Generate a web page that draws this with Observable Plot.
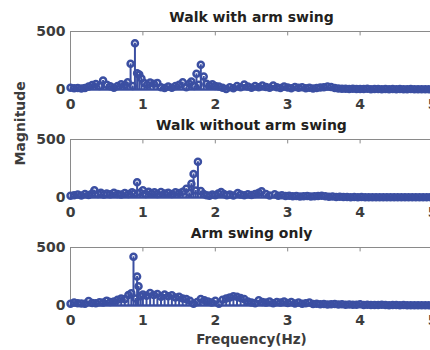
<!DOCTYPE html>
<html>
<head>
<meta charset="utf-8">
<script src="https://cdn.jsdelivr.net/npm/d3@7"></script>
<script src="https://cdn.jsdelivr.net/npm/@observablehq/plot@0.6"></script>
<style>
  html, body { margin: 0; padding: 0; background: #fff; }
  #chart { width: 430px; height: 350px; overflow: hidden; position: relative; }
  #chart svg { display: block; max-width: none !important; height: auto; }
</style>
</head>
<body>
<div id="chart"></div>
<script>
const titles = ["Walk with arm swing", "Walk without arm swing", "Arm swing only"];
const xTicks = [0, 1, 2, 3, 4, 5];
const yTicks = [0, 500];
const xLabel = "Frequency(Hz)";
const yLabel = "Magnitude";

const freq1 = [0,0.05,0.1,0.15,0.2,0.25,0.3,0.35,0.4,0.45,0.5,0.55,0.6,0.65,0.7,0.75,0.79,0.83,0.86,0.89,0.92,0.95,0.98,1.02,1.06,1.1,1.15,1.2,1.25,1.3,1.35,1.4,1.45,1.5,1.55,1.6,1.64,1.67,1.71,1.74,1.77,1.8,1.84,1.88,1.92,1.96,2.0,2.05,2.1,2.15,2.2,2.25,2.3,2.35,2.4,2.45,2.5,2.55,2.6,2.65,2.7,2.75,2.8,2.85,2.9,2.95,3.0,3.05,3.1,3.15,3.2,3.25,3.3,3.35,3.4,3.45,3.5,3.55,3.6,3.65,3.7,3.75,3.8,3.85,3.9,3.95,4.0,4.05,4.1,4.15,4.2,4.25,4.3,4.35,4.4,4.45,4.5,4.55,4.6,4.65,4.7,4.75,4.8,4.85,4.9,4.95,5.0];
const mag1 = [15,10,12,8,14,25,38,48,30,78,42,28,15,30,45,38,63,221,30,399,140,130,95,55,40,60,50,55,20,12,25,15,30,40,63,20,50,69,30,135,40,213,112,50,35,45,30,25,15,5,20,10,30,20,43,25,15,30,20,35,22,15,34,20,12,25,18,10,22,15,20,10,15,8,12,18,20,26,22,12,8,6,7,5,6,4,5,4,6,3,5,4,3,5,3,4,3,4,2,3,4,2,3,2,3,2,2];

const freq2 = [0,0.05,0.1,0.15,0.2,0.25,0.3,0.33,0.38,0.42,0.46,0.5,0.55,0.6,0.65,0.7,0.75,0.8,0.85,0.88,0.92,0.96,1.0,1.04,1.08,1.12,1.16,1.2,1.25,1.3,1.35,1.4,1.45,1.5,1.55,1.6,1.64,1.67,1.7,1.73,1.76,1.8,1.84,1.88,1.92,1.96,2.0,2.04,2.08,2.12,2.16,2.2,2.25,2.31,2.35,2.4,2.45,2.5,2.55,2.6,2.64,2.7,2.75,2.82,2.87,2.92,2.97,3.02,3.07,3.12,3.17,3.22,3.27,3.32,3.37,3.42,3.47,3.52,3.57,3.62,3.67,3.72,3.77,3.82,3.87,3.92,3.97,4.02,4.07,4.12,4.17,4.22,4.27,4.32,4.37,4.42,4.47,4.52,4.57,4.62,4.67,4.72,4.77,4.82,4.87,4.92,4.97];
const mag2 = [15,20,25,18,30,22,35,62,30,40,25,35,28,40,30,25,38,30,45,35,132,40,62,30,50,35,45,30,48,35,40,30,45,38,50,76,40,119,203,60,308,55,30,20,15,25,20,35,48,30,20,25,18,39,25,20,28,22,30,40,53,30,18,28,15,20,12,15,10,12,8,10,14,8,10,12,16,10,6,8,5,6,4,5,3,4,3,4,3,2,3,2,3,2,3,2,2,3,2,2,3,2,2,2,2,2,2];

const freq3 = [0,0.05,0.1,0.15,0.2,0.25,0.3,0.35,0.4,0.45,0.5,0.55,0.6,0.65,0.7,0.75,0.8,0.84,0.87,0.9,0.92,0.94,0.97,1.0,1.05,1.1,1.15,1.2,1.25,1.3,1.35,1.4,1.45,1.5,1.55,1.6,1.65,1.7,1.75,1.8,1.85,1.9,1.95,2.0,2.05,2.1,2.15,2.2,2.25,2.3,2.35,2.4,2.45,2.5,2.55,2.6,2.65,2.7,2.75,2.8,2.85,2.9,2.95,3.0,3.05,3.1,3.15,3.2,3.25,3.3,3.35,3.4,3.45,3.5,3.55,3.6,3.65,3.7,3.75,3.8,3.85,3.9,3.95,4.0,4.05,4.1,4.15,4.2,4.25,4.3,4.35,4.4,4.45,4.5,4.55,4.6,4.65,4.7,4.75,4.8,4.85,4.9,4.95,5.0];
const mag3 = [15,25,20,18,15,38,22,20,28,25,42,30,35,50,60,55,90,105,420,60,251,165,80,95,85,108,90,100,75,95,80,88,70,75,60,55,40,15,30,55,45,35,25,40,15,50,60,70,80,75,65,55,35,25,20,45,30,25,35,20,30,25,35,22,30,18,25,15,20,25,12,15,10,12,8,10,12,8,10,6,8,7,6,10,5,6,4,5,4,6,4,3,4,5,3,4,3,2,3,3,2,3,2,2];

const series = [
  {title: titles[0], data: freq1.map((f, i) => ({f, m: mag1[i]}))},
  {title: titles[1], data: freq2.map((f, i) => ({f, m: mag2[i]}))},
  {title: titles[2], data: freq3.map((f, i) => ({f, m: mag3[i]}))}
];

const blue = "#3b4fa2";
const font = "'DejaVu Sans', Verdana, sans-serif";
const chart = document.getElementById("chart");

series.forEach((s, idx) => {
  const last = idx === series.length - 1;
  const marks = [
    Plot.frame({stroke: "#8a8a8a", strokeWidth: 1}),
    Plot.ruleX(xTicks.slice(1, -1), {y1: 500, y2: 462, stroke: "#8a8a8a"}),
    Plot.axisX({ticks: xTicks, tickSize: 0, tickPadding: 10, tickFormat: d => String(d), label: null, fill: "#3c3c3c", fontSize: 14}),
    Plot.axisY({ticks: yTicks, tickSize: 0, tickPadding: 5, tickFormat: d => String(d), label: null, fill: "#3c3c3c", fontSize: 14}),
    Plot.ruleX(s.data, {x: "f", y1: 0, y2: "m", stroke: blue, strokeWidth: 2}),
    Plot.ruleY([0], {stroke: blue, strokeWidth: 2.5}),
    Plot.dot(s.data, {x: "f", y: "m", r: 3, stroke: blue, strokeWidth: 2.5, fill: "none"}),
    Plot.text([s.title], {frameAnchor: "top", dy: -14, text: d => d, fontSize: 14, fontWeight: "bold", fill: "#231f20", lineAnchor: "middle"})
  ];
  if (idx === 1) {
    marks.push(Plot.text([yLabel], {frameAnchor: "left", dx: -50, dy: -3, rotate: -90, text: d => d, fontSize: 14, fontWeight: "bold", fill: "#3c3c3c"}));
  }
  if (last) {
    marks.push(Plot.text([xLabel], {frameAnchor: "bottom", dy: 29, lineAnchor: "top", text: d => d, fontSize: 13.5, fontWeight: "bold", fill: "#3c3c3c"}));
  }
  const p = Plot.plot({
    width: 440,
    height: last ? 134 : 108,
    marginLeft: 70,
    marginRight: 8,
    marginTop: 31,
    marginBottom: last ? 45 : 19,
    x: {domain: [0, 5]},
    y: {domain: [0, 500]},
    style: {fontFamily: font, fontSize: "14px", fontWeight: "bold", background: "transparent", overflow: "visible"},
    marks
  });
  chart.appendChild(p);
});
</script>
</body>
</html>
